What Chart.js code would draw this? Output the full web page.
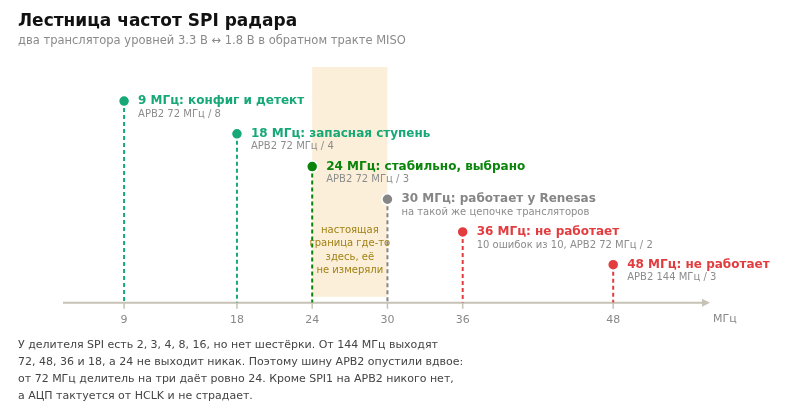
<!DOCTYPE html>
<html><head><meta charset="utf-8">
<script src="https://cdn.jsdelivr.net/npm/chart.js@4"></script>
<style>html,body{margin:0;padding:0;background:#fff}</style>
</head><body>
<canvas id="c" width="800" height="412"></canvas>
<script>
const freqs = [9, 18, 24, 30, 36, 48];
const levels = [6, 5, 4, 3, 2, 1];
const headlines = ['9 МГц: конфиг и детект', '18 МГц: запасная ступень', '24 МГц: стабильно, выбрано', '30 МГц: работает у Renesas', '36 МГц: не работает', '48 МГц: не работает'];
const notes = ['APB2 72 МГц / 8', 'APB2 72 МГц / 4', 'APB2 72 МГц / 3', 'на такой же цепочке трансляторов', '10 ошибок из 10, APB2 72 МГц / 2', 'APB2 144 МГц / 3'];
const colors = ['#17a878', '#17a878', '#0a840a', '#868686', '#e23c3f', '#e23c3f'];
const tickValues = [9, 18, 24, 30, 36, 48];
const bandRange = [24, 30];
const bandText = ['настоящая', 'граница где-то', 'здесь, её', 'не измеряли'];
const axisUnit = 'МГц';
const titleText = 'Лестница частот SPI радара';
const subtitleText = 'два транслятора уровней 3.3 В ↔ 1.8 В в обратном тракте MISO';
const footnote = [
  'У делителя SPI есть 2, 3, 4, 8, 16, но нет шестёрки. От 144 МГц выходят',
  '72, 48, 36 и 18, а 24 не выходит никак. Поэтому шину APB2 опустили вдвое:',
  'от 72 МГц делитель на три даёт ровно 24. Кроме SPI1 на APB2 никого нет,',
  'а АЦП тактуется от HCLK и не страдает.'
];

const X_MIN = 4.13, X_MAX = 55.4, Y_MIN = -0.166, Y_MAX = 7.043;
const FONT = "'DejaVu Sans', sans-serif";
const AXIS_COLOR = '#c6c3b6';

const datasets = [{
  type: 'scatter',
  data: freqs.map((f, i) => ({x: f, y: levels[i]})),
  pointRadius: 5.5,
  pointHoverRadius: 5.5,
  pointBackgroundColor: colors,
  pointBorderColor: '#ffffff',
  pointBorderWidth: 1.5
}];
freqs.forEach((f, i) => {
  datasets.push({
    type: 'line',
    data: [{x: f, y: levels[i]}, {x: f, y: Y_MIN}],
    borderColor: colors[i],
    borderWidth: 2,
    borderDash: [4, 3],
    pointRadius: 0,
    fill: false
  });
});

const decor = {
  id: 'decor',
  beforeDatasetsDraw(chart) {
    const ctx = chart.ctx, xs = chart.scales.x, ys = chart.scales.y, ca = chart.chartArea;
    const axisY = ys.getPixelForValue(Y_MIN);
    const bx0 = xs.getPixelForValue(bandRange[0]), bx1 = xs.getPixelForValue(bandRange[1]);
    ctx.save();
    ctx.fillStyle = '#fcefd9';
    ctx.fillRect(bx0, ca.top, bx1 - bx0, axisY - 6 - ca.top);
    ctx.fillStyle = '#a08012';
    ctx.font = '10px ' + FONT;
    ctx.textAlign = 'center';
    ctx.textBaseline = 'middle';
    const cx = (bx0 + bx1) / 2;
    bandText.forEach((t, k) => ctx.fillText(t, cx, 230 + k * 13.6));
    ctx.strokeStyle = AXIS_COLOR;
    ctx.lineWidth = 2;
    ctx.beginPath();
    ctx.moveTo(ca.left, axisY);
    ctx.lineTo(ca.right - 2, axisY);
    ctx.stroke();
    ctx.fillStyle = AXIS_COLOR;
    ctx.beginPath();
    ctx.moveTo(ca.right + 4, axisY);
    ctx.lineTo(ca.right - 4, axisY - 4);
    ctx.lineTo(ca.right - 4, axisY + 4);
    ctx.closePath();
    ctx.fill();
    ctx.restore();
  },
  afterDatasetsDraw(chart) {
    const ctx = chart.ctx, xs = chart.scales.x, ys = chart.scales.y;
    const axisY = ys.getPixelForValue(Y_MIN);
    ctx.save();
    ctx.strokeStyle = AXIS_COLOR;
    ctx.lineWidth = 1.5;
    tickValues.forEach(v => {
      const px = xs.getPixelForValue(v);
      ctx.beginPath();
      ctx.moveTo(px, axisY);
      ctx.lineTo(px, axisY + 6);
      ctx.stroke();
    });
    ctx.fillStyle = '#888888';
    ctx.font = '11px ' + FONT;
    ctx.textAlign = 'left';
    ctx.textBaseline = 'middle';
    ctx.fillText(axisUnit, xs.right + 7, 319);
    freqs.forEach((f, i) => {
      const px = xs.getPixelForValue(f), py = ys.getPixelForValue(levels[i]);
      ctx.fillStyle = colors[i];
      ctx.font = 'bold 12px ' + FONT;
      ctx.fillText(headlines[i], px + 14, py);
      ctx.fillStyle = '#8c8c8c';
      ctx.font = '10px ' + FONT;
      ctx.fillText(notes[i], px + 14, py + 13);
    });
    ctx.restore();
  },
  afterDraw(chart) {
    const ctx = chart.ctx;
    ctx.save();
    ctx.textAlign = 'left';
    ctx.textBaseline = 'middle';
    ctx.fillStyle = '#111111';
    ctx.font = 'bold 17px ' + FONT;
    ctx.fillText(titleText, 18, 22);
    ctx.fillStyle = '#8a8a8a';
    ctx.font = '11.5px ' + FONT;
    ctx.fillText(subtitleText, 18, 41);
    ctx.fillStyle = '#444444';
    ctx.font = '11px ' + FONT;
    footnote.forEach((t, k) => ctx.fillText(t, 18, 345 + k * 17));
    ctx.restore();
  }
};

new Chart(document.getElementById('c'), {
  type: 'scatter',
  data: {datasets},
  options: {
    responsive: false,
    devicePixelRatio: 1,
    animation: false,
    events: [],
    layout: {padding: {left: 63, right: 94, top: 67, bottom: 74}},
    plugins: {legend: {display: false}, tooltip: {enabled: false}, title: {display: false}},
    scales: {
      x: {
        type: 'linear', min: X_MIN, max: X_MAX,
        afterBuildTicks: s => { s.ticks = tickValues.map(v => ({value: v})); },
        grid: {display: false, drawTicks: false},
        border: {display: false},
        ticks: {color: '#888888', font: {family: FONT, size: 11}, padding: 11, autoSkip: false, maxRotation: 0}
      },
      y: {type: 'linear', display: false, min: Y_MIN, max: Y_MAX}
    }
  },
  plugins: [decor]
});
</script>
</body></html>
